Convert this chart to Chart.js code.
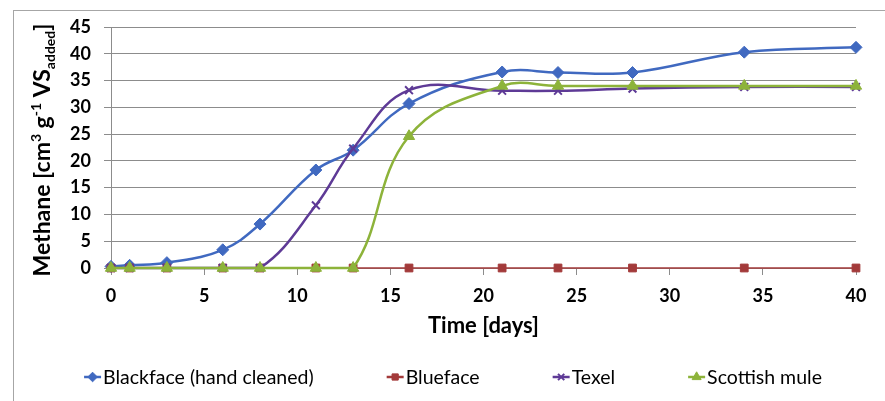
<!DOCTYPE html>
<html lang="en">
<head>
    <meta charset="UTF-8">
    <title>Methane yield over time</title>
    <script src="https://cdn.jsdelivr.net/npm/chart.js"></script>
    <style>
        html, body { margin: 0; padding: 0; background: #fff; }
        #wrap { width: 885px; height: 401px; }
    </style>
</head>
<body>
    <div id="wrap"><canvas id="methaneChart" width="885" height="401"></canvas></div>
<script>
    // sampling days
    const days = [0, 1, 3, 6, 8, 11, 13, 16, 21, 24, 28, 34, 40];

    // cumulative methane, cm3 per g VS added
    const blackface = [0.3, 0.5, 1.0, 3.4, 8.2, 18.3, 22.0, 30.7, 36.6, 36.5, 36.5, 40.3, 41.2];
    const blueface  = [0, 0, 0, 0, 0, 0, 0, 0, 0, 0, 0, 0, 0];
    const texel     = [0, 0, 0, 0, 0, 11.7, 22.3, 33.2, 33.1, 33.1, 33.5, 33.8, 33.8];
    const scottish  = [0, 0, 0, 0, 0, 0, 0, 24.6, 34.0, 34.0, 34.0, 34.0, 34.0];

    const seriesNames = ['Blackface (hand cleaned)', 'Blueface', 'Texel', 'Scottish mule'];
    const yTicks = [0, 5, 10, 15, 20, 25, 30, 35, 40, 45];
    const xTicks = [0, 5, 10, 15, 20, 25, 30, 35, 40];

    const FONT = 'Lato, Carlito, Calibri, sans-serif';

    function pts(vals) {
        return vals.map((v, i) => ({ x: days[i], y: v }));
    }

    // outer frame like the exported excel chart
    const framePlugin = {
        id: 'frame',
        beforeDraw(chart) {
            const ctx = chart.ctx;
            ctx.save();
            ctx.strokeStyle = '#a6a6a6';
            ctx.lineWidth = 1;
            ctx.strokeRect(13.5, 10.5, 900, 420);
            ctx.restore();
        }
    };

    // y title with super/subscripts
    const yTitlePlugin = {
        id: 'yTitle',
        afterDraw(chart) {
            const ctx = chart.ctx;
            const big = 'bold 23px ' + FONT;
            const small = 'bold 14px ' + FONT;
            const parts = [
                { t: 'Methane [cm', f: big, dy: 0 },
                { t: '3', f: small, dy: -9 },
                { t: ' g', f: big, dy: 0 },
                { t: '-1', f: small, dy: -9 },
                { t: ' VS', f: big, dy: 0 },
                { t: 'added', f: small, dy: 5 },
                { t: ']', f: big, dy: 0 }
            ];
            ctx.save();
            let total = 0;
            parts.forEach(p => { ctx.font = p.f; p.w = ctx.measureText(p.t).width; total += p.w; });
            ctx.translate(50, 150);
            ctx.rotate(-Math.PI / 2);
            ctx.fillStyle = '#000';
            ctx.textBaseline = 'alphabetic';
            let x = -total / 2;
            parts.forEach(p => {
                ctx.font = p.f;
                ctx.fillText(p.t, x, p.dy);
                x += p.w;
            });
            ctx.restore();
        }
    };

    // excel style legend: short line with marker, then label
    const legendPlugin = {
        id: 'excelLegend',
        afterDraw(chart) {
            const ctx = chart.ctx;
            const y = 377;
            const lineLen = 17;
            const gap = 73;
            ctx.save();
            ctx.font = '19.5px ' + FONT;
            const sets = chart.data.datasets;
            const widths = sets.map(d => ctx.measureText(d.label).width);
            let total = widths.reduce((a, b) => a + b, 0) + sets.length * (lineLen + 2) + gap * (sets.length - 1);
            let x = 453 - total / 2;
            sets.forEach((d, i) => {
                ctx.strokeStyle = d.borderColor;
                ctx.fillStyle = d.borderColor;
                ctx.lineWidth = 2.5;
                ctx.beginPath();
                ctx.moveTo(x, y);
                ctx.lineTo(x + lineLen, y);
                ctx.stroke();
                ctx.lineWidth = d.pointBorderWidth;
                Chart.helpers.drawPoint(ctx, {
                    pointStyle: d.pointStyle,
                    radius: d.pointRadius * 0.8,
                    borderWidth: d.pointBorderWidth
                }, x + lineLen / 2, y);
                ctx.fillStyle = '#000';
                ctx.textBaseline = 'middle';
                ctx.fillText(d.label, x + lineLen + 2, y + 1);
                x += lineLen + 2 + widths[i] + gap;
            });
            ctx.restore();
        }
    };

    const blue = '#4069c0';
    const red = '#a33a3a';
    const purple = '#5e3a96';
    const green = '#8db33a';

    new Chart(document.getElementById('methaneChart').getContext('2d'), {
        type: 'line',
        data: {
            datasets: [
                {
                    label: seriesNames[0], data: pts(blackface), order: 4, clip: false,
                    borderColor: blue, backgroundColor: blue, borderWidth: 2.5,
                    pointStyle: 'rectRot', pointRadius: 6, pointBackgroundColor: blue,
                    pointBorderColor: blue, pointBorderWidth: 1, tension: 0.4
                },
                {
                    label: seriesNames[1], data: pts(blueface), order: 3, clip: false,
                    borderColor: red, backgroundColor: red, borderWidth: 1.5,
                    pointStyle: 'rect', pointRadius: 5.5, pointBackgroundColor: red,
                    pointBorderColor: red, pointBorderWidth: 1, tension: 0
                },
                {
                    label: seriesNames[2], data: pts(texel), order: 2, clip: false,
                    borderColor: purple, backgroundColor: purple, borderWidth: 2.5,
                    pointStyle: 'crossRot', pointRadius: 5.5, pointBackgroundColor: purple,
                    pointBorderColor: purple, pointBorderWidth: 2, tension: 0.4
                },
                {
                    label: seriesNames[3], data: pts(scottish), order: 1, clip: false,
                    borderColor: green, backgroundColor: green, borderWidth: 2.5,
                    pointStyle: 'triangle', pointRadius: 6.5, pointBackgroundColor: green,
                    pointBorderColor: green, pointBorderWidth: 1, tension: 0.4
                }
            ]
        },
        options: {
            responsive: false,
            animation: false,
            layout: { padding: { top: 27, right: 29, left: 0, bottom: 0 } },
            plugins: {
                legend: { display: false },
                tooltip: { enabled: false }
            },
            scales: {
                x: {
                    type: 'linear',
                    min: 0,
                    max: 40,
                    afterFit: s => { s.height = 133; },
                    afterBuildTicks: s => { s.ticks = xTicks.map(v => ({ value: v })); },
                    border: { display: true, color: '#8c8c8c', width: 1 },
                    grid: { drawOnChartArea: false, drawTicks: true, tickLength: 7, color: '#8c8c8c' },
                    ticks: { color: '#000', padding: 10, font: { family: FONT, size: 18, weight: 'bold' } },
                    title: {
                        display: true, text: 'Time [days]', color: '#000',
                        font: { family: FONT, size: 22, weight: 'bold' },
                        padding: { top: 0, bottom: 62 }
                    }
                },
                y: {
                    min: 0,
                    max: 45,
                    afterFit: s => { s.width = 111; },
                    afterBuildTicks: s => { s.ticks = yTicks.map(v => ({ value: v })); },
                    border: { display: true, color: '#8c8c8c', width: 1 },
                    grid: { color: '#8c8c8c', lineWidth: 1, tickLength: 7 },
                    ticks: { color: '#000', padding: 13, font: { family: FONT, size: 18, weight: 'bold' } },
                    title: { display: false }
                }
            }
        },
        plugins: [framePlugin, yTitlePlugin, legendPlugin]
    });
</script>
</body>
</html>
